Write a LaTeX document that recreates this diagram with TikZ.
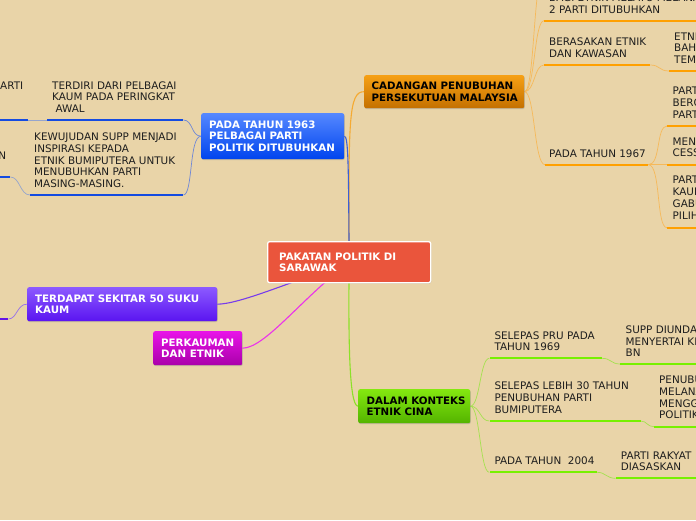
\documentclass[tikz,border=0pt]{standalone}
\usepackage{fontspec}
\setmainfont{DejaVu Sans}
\usetikzlibrary{positioning,shadows}
\definecolor{bgtan}{RGB}{233,212,168}
\definecolor{inkgray}{RGB}{30,30,30}
\definecolor{pplred}{RGB}{234,85,60}
\definecolor{bltop}{RGB}{85,136,255}
\definecolor{blbot}{RGB}{0,68,238}
\definecolor{blbar}{RGB}{20,75,225}
\definecolor{blline}{RGB}{60,95,215}
\definecolor{bltwig}{RGB}{110,135,215}
\definecolor{blfaint}{RGB}{150,165,205}
\definecolor{ortop}{RGB}{246,160,20}
\definecolor{orbot}{RGB}{196,112,0}
\definecolor{orbar}{RGB}{255,160,0}
\definecolor{orline}{RGB}{245,170,50}
\definecolor{ortwig}{RGB}{246,185,90}
\definecolor{grtop}{RGB}{132,232,16}
\definecolor{grbot}{RGB}{84,180,0}
\definecolor{grbar}{RGB}{120,240,0}
\definecolor{grline}{RGB}{140,225,40}
\definecolor{grtwig}{RGB}{165,225,80}
\definecolor{putop}{RGB}{140,90,255}
\definecolor{pubot}{RGB}{90,20,240}
\definecolor{pubar}{RGB}{100,20,230}
\definecolor{puline}{RGB}{120,60,235}
\definecolor{putwig}{RGB}{150,110,235}
\definecolor{mgtop}{RGB}{232,20,232}
\definecolor{mgbot}{RGB}{170,0,170}
\definecolor{mgline}{RGB}{235,50,235}
\newcommand{\itemfont}{\fontsize{10.4}{11.7}\selectfont}
\newcommand{\topicfont}{\fontsize{10.25}{11.7}\selectfont\bfseries}
\pgfdeclarelayer{bgfill}
\pgfdeclarelayer{links}
\pgfsetlayers{bgfill,links,main}

\begin{document}
\begin{tikzpicture}[x=1pt, y=-1pt, font=\itemfont, text=inkgray,
  box/.style={anchor=north west, rounded corners=2pt, inner sep=0pt,
              drop shadow={shadow xshift=0.6pt, shadow yshift=-0.9pt, opacity=0.35}},
  boxtext/.style={anchor=west, align=left, inner sep=0pt, font=\topicfont},
  bar/.style={anchor=west, fill=#1, draw=none, inner sep=0pt, minimum height=2pt},
  item/.style={anchor=south west, align=left, inner sep=0pt},
  link/.style={draw=#1, line width=1.1pt},
  twig/.style={draw=#1, line width=0.7pt}]
  \begin{pgfonlayer}{bgfill}
    \fill[bgtan] (0,0) rectangle (696,520);
  \end{pgfonlayer}
  \useasboundingbox (0,0) rectangle (696,520);

  % main topics
  \node[box, fill=pplred, draw=white, line width=1.3pt,
        minimum width=163pt, minimum height=41pt] (ppl) at (267,241) {};
  \node[boxtext, text=white, right=12pt of ppl.west] (ppl-t) {PAKATAN POLITIK DI\\SARAWAK};
  \node[box, top color=bltop, bottom color=blbot,
        minimum width=143pt, minimum height=46pt] (y1963) at (201,113) {};
  \node[boxtext, text=white, right=8pt of y1963.west] (y1963-t) {PADA TAHUN 1963\\PELBAGAI PARTI\\POLITIK DITUBUHKAN};
  \node[box, top color=ortop, bottom color=orbot,
        minimum width=160pt, minimum height=33pt] (cadangan) at (364,75) {};
  \node[boxtext, text=black, right=7.5pt of cadangan.west] (cadangan-t) {CADANGAN PENUBUHAN\\PERSEKUTUAN MALAYSIA};
  \node[box, top color=grtop, bottom color=grbot,
        minimum width=112pt, minimum height=34pt] (cina) at (358,389) {};
  \node[boxtext, text=black, right=8.5pt of cina.west] (cina-t) {DALAM KONTEKS\\ETNIK CINA};
  \node[box, top color=putop, bottom color=pubot,
        minimum width=190pt, minimum height=34pt] (suku) at (27,287) {};
  \node[boxtext, text=white, right=8pt of suku.west] (suku-t) {TERDAPAT SEKITAR 50 SUKU\\KAUM};
  \node[box, top color=mgtop, bottom color=mgbot,
        minimum width=89pt, minimum height=34pt] (etnik) at (153,331) {};
  \node[boxtext, text=white, right=8pt of etnik.west] (etnik-t) {PERKAUMAN\\DAN ETNIK};

  % 1963 branch
  \node[bar=blbar, minimum width=136pt] (awal) at (47,120) {};
  \node[item, above right=7.2pt and 5pt of awal.west] (awal-t) {TERDIRI DARI PELBAGAI\\KAUM PADA PERINGKAT\\~AWAL};
  \node[bar=blbar, minimum width=153pt] (supp) at (30,195) {};
  \node[item, above right=7.2pt and 4pt of supp.west] (supp-t) {KEWUJUDAN SUPP MENJADI\\INSPIRASI KEPADA\\ETNIK BUMIPUTERA UNTUK\\MENUBUHKAN PARTI\\MASING-MASING.};
  \node[bar=blbar, minimum width=38pt] (parti) at (-10,120) {};
  \node[item, above left=30pt and 5pt of parti.east] (parti-t) {ARTI};
  \node[bar=blbar, minimum width=20pt] (nleft) at (-10,177) {};
  \node[item, above left=17pt and 4pt of nleft.east] (nleft-t) {N};

  % malaysia branch
  \coordinate (above) at (545,-30);
  \node[bar=orbar, minimum width=170pt] (bagi) at (544,20.7) {};
  \node[item, above right=7.2pt and 5pt of bagi.west] (bagi-t) {BAGI ETNIK MELAYU MELANAU\\2 PARTI DITUBUHKAN};
  \node[bar=orbar, minimum width=106pt] (asas) at (544,65) {};
  \node[item, above right=7.2pt and 5pt of asas.west] (asas-t) {BERASAKAN ETNIK\\DAN KAWASAN};
  \node[bar=orbar, minimum width=50pt] (etni) at (669,71) {};
  \node[item, above right=7.2pt and 5pt of etni.west] (etni-t) {ETNI\\BAHA\\TEM};
  \node[bar=orbar, minimum width=103pt] (y1967) at (545,164.7) {};
  \node[item, above right=7.2pt and 4pt of y1967.west] (y1967-t) {PADA TAHUN 1967};
  \node[bar=orbar, minimum width=50pt] (berg) at (667,126) {};
  \node[item, above right=7.5pt and 5.5pt of berg.west] (berg-t) {PART\\BERG\\PART};
  \node[bar=orbar, minimum width=50pt] (cess) at (667,164.7) {};
  \node[item, above right=7.5pt and 5.5pt of cess.west] (cess-t) {MENG\\CESS};
  \node[bar=orbar, minimum width=50pt] (gabu) at (667,227.7) {};
  \node[item, above right=8.5pt and 5.5pt of gabu.west] (gabu-t) {PART\\KAUM\\GABU\\PILIH};

  % cina branch
  \node[bar=grbar, minimum width=112.4pt] (pru) at (489.3,358.3) {};
  \node[item, above right=7.2pt and 5pt of pru.west] (pru-t) {SELEPAS PRU PADA\\TAHUN 1969};
  \node[bar=grbar, minimum width=90pt] (bn) at (620,364) {};
  \node[item, above right=7pt and 5.5pt of bn.west] (bn-t) {SUPP DIUNDA\\MENYERTAI KE\\BN};
  \node[bar=grbar, minimum width=151pt] (lebih) at (489.3,421) {};
  \node[item, above right=7.5pt and 5pt of lebih.west] (lebih-t) {SELEPAS LEBIH 30 TAHUN\\PENUBUHAN PARTI\\BUMIPUTERA};
  \node[bar=grbar, minimum width=56pt] (penubu) at (654,426.7) {};
  \node[item, above right=7.5pt and 5pt of penubu.west] (penubu-t) {PENUBU\\MELANA\\MENGG\\POLITIK};
  \node[bar=grbar, minimum width=107.4pt] (y2004) at (489.3,472.3) {};
  \node[item, above right=7.2pt and 5pt of y2004.west] (y2004-t) {PADA TAHUN~~2004};
  \node[bar=grbar, minimum width=95pt] (rakyat) at (615.7,478.3) {};
  \node[item, above right=7.2pt and 5pt of rakyat.west] (rakyat-t) {PARTI RAKYAT\\DIASASKAN};

  % suku branch
  \node[bar=pubar, minimum width=18pt] (sukuleft) at (-10,319) {};

  \begin{pgfonlayer}{links}
    \draw[link=orline] (ppl.center) .. controls (348.5,120) and (348.5,91.5) .. (cadangan.west);
    \draw[link=blline] (ppl.center) .. controls (348.5,170) and (348.5,136) .. (y1963.east);
    \draw[link=grline] (ppl.center) .. controls (348.5,330) and (348.5,406) .. (cina.west);
    \draw[link=puline] (ppl.center) .. controls (290,282) and (240,304) .. (suku.east);
    \draw[link=mgline] (ppl.center) .. controls (300,300) and (265,348) .. (etnik.east);

    \draw[twig=bltwig] (y1963.west) .. controls (191,136) and (193,120) .. (awal.east);
    \draw[twig=bltwig] (y1963.west) .. controls (189,136) and (193,195) .. (supp.east);
    \draw[twig=blfaint] (awal.west) -- (parti.east);
    \draw[twig=blfaint] (supp.west) .. controls (20,195) and (20,177) .. (nleft.east);

    \draw[twig=ortwig] (cadangan.east) .. controls (535,91.5) and (533,-30) .. (above);
    \draw[twig=ortwig] (cadangan.east) .. controls (535,91.5) and (534,20.7) .. (bagi.west);
    \draw[twig=ortwig] (cadangan.east) .. controls (535,91.5) and (534,65) .. (asas.west);
    \draw[twig=ortwig] (cadangan.east) .. controls (535,91.5) and (534,164.7) .. (y1967.west);
    \draw[twig=ortwig] (asas.east) .. controls (660,65) and (659,71) .. (etni.west);
    \draw[twig=ortwig] (y1967.east) .. controls (661,164.7) and (656,126) .. (berg.west);
    \draw[twig=ortwig] (y1967.east) -- (cess.west);
    \draw[twig=ortwig] (y1967.east) .. controls (661,164.7) and (656,227.7) .. (gabu.west);

    \draw[twig=grtwig] (cina.east) .. controls (480,406) and (480,358.3) .. (pru.west);
    \draw[twig=grtwig] (cina.east) .. controls (480,406) and (480,421) .. (lebih.west);
    \draw[twig=grtwig] (cina.east) .. controls (480,406) and (480,472.3) .. (y2004.west);
    \draw[twig=grtwig] (pru.east) .. controls (611,358.3) and (611,364) .. (bn.west);
    \draw[twig=grtwig] (lebih.east) .. controls (647,421) and (647,426.7) .. (penubu.west);
    \draw[twig=grtwig] (y2004.east) .. controls (606,472.3) and (606,478.3) .. (rakyat.west);

    \draw[twig=putwig] (suku.west) .. controls (17,304) and (17,319) .. (sukuleft.east);
  \end{pgfonlayer}
\end{tikzpicture}
\end{document}
